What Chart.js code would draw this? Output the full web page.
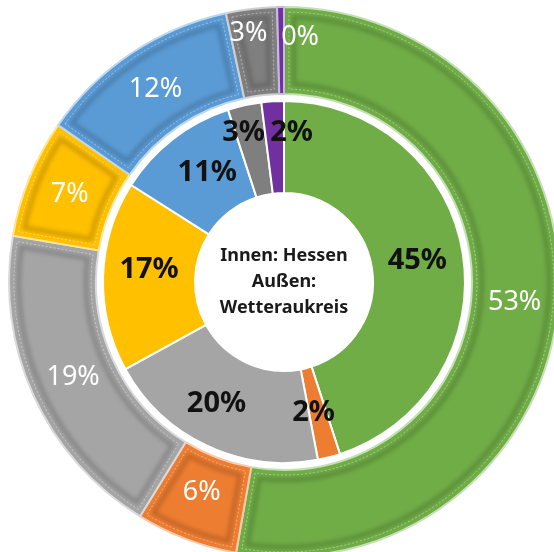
<!DOCTYPE html>
<html>
<head>
<meta charset="utf-8">
<script src="https://cdn.jsdelivr.net/npm/chart.js@4.4.1/dist/chart.umd.min.js"></script>
<style>
  html, body { margin: 0; padding: 0; background: #fff; overflow: hidden; }
  #wrap { position: absolute; left: 8px; top: 6px; width: 552px; height: 552px; }
</style>
</head>
<body>
<div id="wrap"><canvas id="myChart"></canvas></div>
<script>
// categories (no names in the picture, only colours)
var categories = ['A', 'B', 'C', 'D', 'E', 'F', 'G'];
// inner ring: Hessen, outer ring: Wetteraukreis (percent)
var hessen = [45, 2, 20, 17, 11, 3, 2];
var wetterau = [53, 6, 19, 7, 12, 3, 0.4];
var centerText = ['Innen: Hessen', 'Außen:', 'Wetteraukreis'];

var colors = ['#70AD47', '#ED7D31', '#A5A5A5', '#FFC000', '#5B9BD5', '#7F7F7F', '#7030A0'];
var outerBorders = ['#C5E0B4', '#F8CBAD', '#DADADA', '#FFE699', '#BDD7EE', '#D0D0D0', '#C9B8E0'];
// small label nudges where the labels of thin slices would collide
var innerNudge = [[0, 0], [-4, 0], [-10, 0], [0, -8], [6, -3], [-11, -18], [16, -15]];
var outerNudge = [[0, 0], [0, -6], [0, 0], [0, 0], [0, 0], [-8, -19], [19, -13]];

function insetArc(ctx, a, d) {
    var r0 = a.innerRadius + d, r1 = a.outerRadius - d;
    var s0 = a.startAngle + d / r0, e0 = a.endAngle - d / r0;
    var s1 = a.startAngle + d / r1, e1 = a.endAngle - d / r1;
    if (e1 <= s1 || e0 <= s0) return false;
    ctx.beginPath();
    ctx.arc(a.x, a.y, r1, s1, e1);
    ctx.arc(a.x, a.y, r0, e0, s0, true);
    ctx.closePath();
    return true;
}

// soft bevel look of the outer ring
var bevelPlugin = {
    id: 'bevelPlugin',
    afterDatasetsDraw: function(chart) {
        var ctx = chart.ctx;
        chart.getDatasetMeta(0).data.forEach(function(arc) {
            var a = arc.getProps(['x', 'y', 'startAngle', 'endAngle', 'innerRadius', 'outerRadius'], true);
            ctx.save();
            if (!insetArc(ctx, a, 1)) { ctx.restore(); return; }
            ctx.clip();
            if (insetArc(ctx, a, 10)) {
                ctx.filter = 'blur(2px)';
                ctx.strokeStyle = 'rgba(0,0,0,0.2)';
                ctx.lineWidth = 4;
                ctx.stroke();
                ctx.filter = 'none';
            }
            if (insetArc(ctx, a, 5)) {
                ctx.strokeStyle = 'rgba(255,255,255,0.4)';
                ctx.lineWidth = 1;
                ctx.setLineDash([2, 2]);
                ctx.stroke();
                ctx.setLineDash([]);
            }
            ctx.restore();
        });
    }
};

// draws the percent labels and the text in the hole
var labelPlugin = {
    id: 'labelPlugin',
    afterDatasetsDraw: function(chart) {
        var ctx = chart.ctx;
        ctx.save();
        ctx.textAlign = 'center';
        ctx.textBaseline = 'middle';
        chart.data.datasets.forEach(function(ds, i) {
            if (!ds.showLabels) return;
            var meta = chart.getDatasetMeta(i);
            meta.data.forEach(function(arc, j) {
                var p = arc.tooltipPosition();
                var n = ds.nudge[j];
                ctx.font = ds.labelFont;
                ctx.fillStyle = ds.labelColor;
                ctx.fillText(Math.round(ds.data[j]) + '%', p.x + n[0], p.y + n[1]);
            });
        });
        var m = chart.getDatasetMeta(0).data[0];
        ctx.font = 'bold 18px "Noto Sans"';
        ctx.fillStyle = '#1a1a1a';
        centerText.forEach(function(t, k) {
            ctx.fillText(t, m.x, m.y - 26 + k * 26);
        });
        ctx.restore();
    }
};

var ctx = document.getElementById('myChart').getContext('2d');
var myChart = new Chart(ctx, {
    type: 'doughnut',
    data: {
        labels: categories,
        datasets: [{
            data: wetterau,
            backgroundColor: colors,
            borderColor: outerBorders,
            borderWidth: 2,
            weight: 87,
            showLabels: true,
            nudge: outerNudge,
            labelFont: '27px "Noto Sans"',
            labelColor: '#ffffff'
        }, {
            data: [1],
            backgroundColor: 'rgba(0,0,0,0)',
            borderWidth: 0,
            weight: 7
        }, {
            data: hessen,
            backgroundColor: colors,
            borderColor: '#ffffff',
            borderWidth: 2,
            weight: 92,
            showLabels: true,
            nudge: innerNudge,
            labelFont: 'bold 29px "Noto Sans"',
            labelColor: '#111111'
        }]
    },
    options: {
        responsive: true,
        maintainAspectRatio: false,
        animation: false,
        events: [],
        cutout: 89,
        layout: { padding: 0 },
        plugins: {
            legend: { display: false },
            tooltip: { enabled: false }
        }
    },
    plugins: [bevelPlugin, labelPlugin]
});
</script>
</body>
</html>
